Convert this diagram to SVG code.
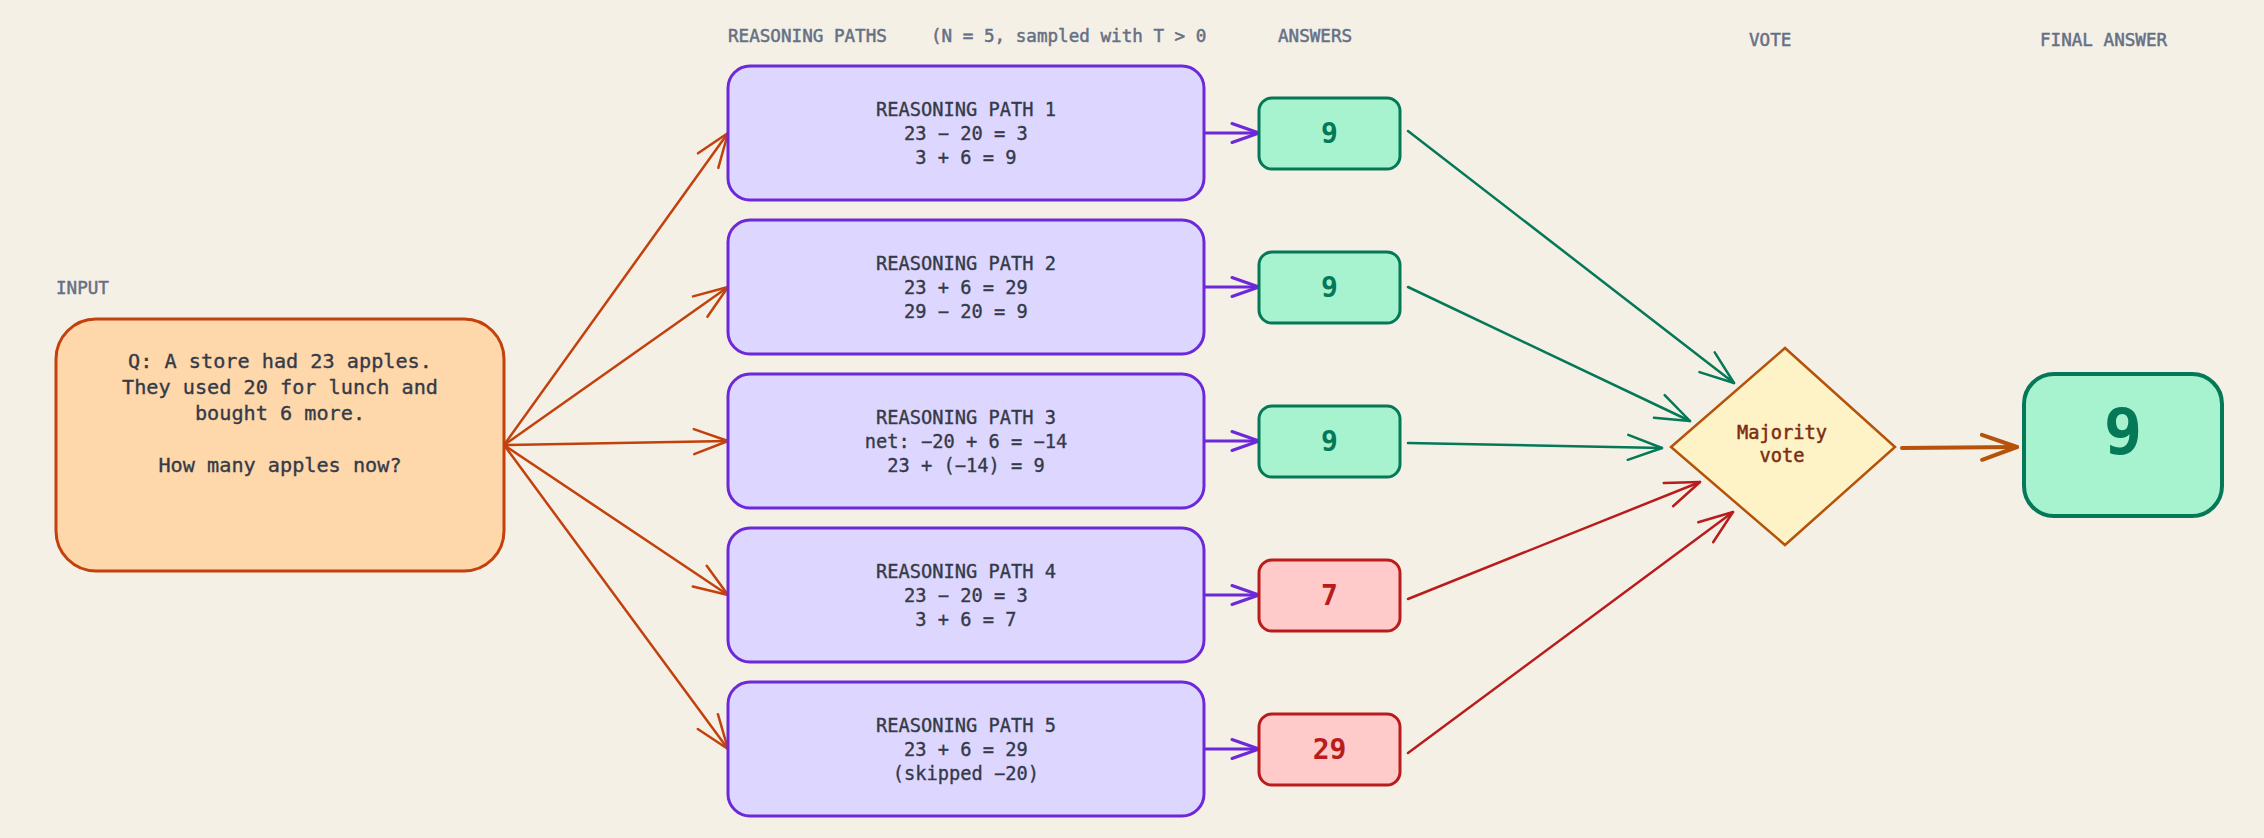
<svg xmlns="http://www.w3.org/2000/svg" width="2264" height="838" viewBox="0 0 2264 838">
  <defs>
    <style>
      .hdr { font-family: "DejaVu Sans Mono", "Liberation Mono", monospace; font-size: 17.6px; fill: #667085; stroke: #667085; stroke-width: 0.5px; }
      .body { font-family: "DejaVu Sans Mono", "Liberation Mono", monospace; fill: #343a48; stroke: #343a48; stroke-width: 0.35px; text-anchor: middle; }
      .vt { font-family: "DejaVu Sans Mono", "Liberation Mono", monospace; font-size: 18.7px; fill: #7c2d12; stroke: #7c2d12; stroke-width: 0.5px; text-anchor: middle; }
      .inp { fill: #fed7aa; stroke: #c2410c; stroke-width: 3; }
      .path { fill: #ddd6fe; stroke: #6d28d9; stroke-width: 3; }
      .ok { fill: #a7f3d0; stroke: #047857; stroke-width: 3; }
      .bad { fill: #fecaca; stroke: #b91c1c; stroke-width: 3; }
      .ans { font-family: "DejaVu Sans Mono", "Liberation Mono", monospace; font-size: 28px; font-weight: bold; text-anchor: middle; }
      .big { font-family: "DejaVu Sans Mono", "Liberation Mono", monospace; font-size: 64px; font-weight: bold; text-anchor: middle; fill: #047857; }
      .c-or { fill: none; stroke: #c2410c; stroke-width: 2.5; stroke-linecap: round; }
      .c-pu { fill: none; stroke: #6d28d9; stroke-width: 3; stroke-linecap: round; }
      .c-gr { fill: none; stroke: #047857; stroke-width: 2.5; stroke-linecap: round; }
      .c-rd { fill: none; stroke: #b91c1c; stroke-width: 2.5; stroke-linecap: round; }
      .c-am { fill: none; stroke: #b45309; stroke-width: 4; stroke-linecap: round; }
    </style>
    <marker id="m-or" markerUnits="userSpaceOnUse" orient="auto" markerWidth="50" markerHeight="40" viewBox="-40 -20 50 40" refX="0" refY="0" overflow="visible">
      <path d="M -34 -12.5 L 0 0 L -34 12.5" fill="none" stroke="#c2410c" stroke-width="2.5" stroke-linecap="round" stroke-linejoin="round"/>
    </marker>
    <marker id="m-pu" markerUnits="userSpaceOnUse" orient="auto" markerWidth="50" markerHeight="40" viewBox="-40 -20 50 40" refX="0" refY="0" overflow="visible">
      <path d="M -27 -9.5 L 0 0 L -27 9.5" fill="none" stroke="#6d28d9" stroke-width="3" stroke-linecap="round" stroke-linejoin="round"/>
    </marker>
    <marker id="m-gr" markerUnits="userSpaceOnUse" orient="auto" markerWidth="50" markerHeight="40" viewBox="-40 -20 50 40" refX="0" refY="0" overflow="visible">
      <path d="M -34 -12.5 L 0 0 L -34 12.5" fill="none" stroke="#047857" stroke-width="2.5" stroke-linecap="round" stroke-linejoin="round"/>
    </marker>
    <marker id="m-rd" markerUnits="userSpaceOnUse" orient="auto" markerWidth="50" markerHeight="40" viewBox="-40 -20 50 40" refX="0" refY="0" overflow="visible">
      <path d="M -34 -12.5 L 0 0 L -34 12.5" fill="none" stroke="#b91c1c" stroke-width="2.5" stroke-linecap="round" stroke-linejoin="round"/>
    </marker>
    <marker id="m-am" markerUnits="userSpaceOnUse" orient="auto" markerWidth="50" markerHeight="40" viewBox="-40 -20 50 40" refX="0" refY="0" overflow="visible">
      <path d="M -35 -12.5 L 0 0 L -35 12.5" fill="none" stroke="#b45309" stroke-width="4" stroke-linecap="round" stroke-linejoin="round"/>
    </marker>
  </defs>

  <rect x="0" y="0" width="2264" height="838" fill="#f5f0e6"/>

  <g id="headers">
    <text class="hdr" x="728" y="42">REASONING PATHS</text>
    <text class="hdr" x="931" y="42">(N = 5, sampled with T &gt; 0</text>
    <text class="hdr" x="1278" y="42">ANSWERS</text>
    <text class="hdr" x="1749" y="46">VOTE</text>
    <text class="hdr" x="2040" y="46">FINAL ANSWER</text>
    <text class="hdr" x="56" y="294">INPUT</text>
  </g>

  <g id="connectors">
    <line class="c-or" x1="504" y1="445" x2="728" y2="133" marker-end="url(#m-or)"/>
    <line class="c-or" x1="504" y1="445" x2="728" y2="287" marker-end="url(#m-or)"/>
    <line class="c-or" x1="504" y1="445" x2="728" y2="441" marker-end="url(#m-or)"/>
    <line class="c-or" x1="504" y1="445" x2="728" y2="595" marker-end="url(#m-or)"/>
    <line class="c-or" x1="504" y1="445" x2="728" y2="749" marker-end="url(#m-or)"/>

    <line class="c-pu" x1="1204" y1="133" x2="1259" y2="133" marker-end="url(#m-pu)"/>
    <line class="c-pu" x1="1204" y1="287" x2="1259" y2="287" marker-end="url(#m-pu)"/>
    <line class="c-pu" x1="1204" y1="441" x2="1259" y2="441" marker-end="url(#m-pu)"/>
    <line class="c-pu" x1="1204" y1="595" x2="1259" y2="595" marker-end="url(#m-pu)"/>
    <line class="c-pu" x1="1204" y1="749" x2="1259" y2="749" marker-end="url(#m-pu)"/>

    <line class="c-gr" x1="1408" y1="131" x2="1734" y2="383" marker-end="url(#m-gr)"/>
    <line class="c-gr" x1="1408" y1="287" x2="1690" y2="421" marker-end="url(#m-gr)"/>
    <line class="c-gr" x1="1408" y1="443" x2="1662" y2="448" marker-end="url(#m-gr)"/>
    <line class="c-rd" x1="1408" y1="599" x2="1700" y2="482" marker-end="url(#m-rd)"/>
    <line class="c-rd" x1="1408" y1="753" x2="1733" y2="512" marker-end="url(#m-rd)"/>

    <line class="c-am" x1="1902" y1="448" x2="2017" y2="447" marker-end="url(#m-am)"/>
  </g>

  <g id="input">
    <rect class="inp" x="56" y="319" width="448" height="252" rx="40" ry="40"/>
    <text class="body" font-size="20.2" x="280" y="368">Q: A store had 23 apples.</text>
    <text class="body" font-size="20.2" x="280" y="394">They used 20 for lunch and</text>
    <text class="body" font-size="20.2" x="280" y="420">bought 6 more.</text>
    <text class="body" font-size="20.2" x="280" y="472">How many apples now?</text>
  </g>

  <g id="path1">
    <rect class="path" x="728" y="66" width="476" height="134" rx="22" ry="22"/>
    <text class="body" font-size="18.7" x="966" y="116">REASONING PATH 1</text>
    <text class="body" font-size="18.7" x="966" y="140">23 − 20 = 3</text>
    <text class="body" font-size="18.7" x="966" y="164">3 + 6 = 9</text>
  </g>
  <g id="path2">
    <rect class="path" x="728" y="220" width="476" height="134" rx="22" ry="22"/>
    <text class="body" font-size="18.7" x="966" y="270">REASONING PATH 2</text>
    <text class="body" font-size="18.7" x="966" y="294">23 + 6 = 29</text>
    <text class="body" font-size="18.7" x="966" y="318">29 − 20 = 9</text>
  </g>
  <g id="path3">
    <rect class="path" x="728" y="374" width="476" height="134" rx="22" ry="22"/>
    <text class="body" font-size="18.7" x="966" y="424">REASONING PATH 3</text>
    <text class="body" font-size="18.7" x="966" y="448">net: −20 + 6 = −14</text>
    <text class="body" font-size="18.7" x="966" y="472">23 + (−14) = 9</text>
  </g>
  <g id="path4">
    <rect class="path" x="728" y="528" width="476" height="134" rx="22" ry="22"/>
    <text class="body" font-size="18.7" x="966" y="578">REASONING PATH 4</text>
    <text class="body" font-size="18.7" x="966" y="602">23 − 20 = 3</text>
    <text class="body" font-size="18.7" x="966" y="626">3 + 6 = 7</text>
  </g>
  <g id="path5">
    <rect class="path" x="728" y="682" width="476" height="134" rx="22" ry="22"/>
    <text class="body" font-size="18.7" x="966" y="732">REASONING PATH 5</text>
    <text class="body" font-size="18.7" x="966" y="756">23 + 6 = 29</text>
    <text class="body" font-size="18.7" x="966" y="780">(skipped −20)</text>
  </g>

  <g id="answer1">
    <rect class="ok" x="1259" y="98" width="141" height="71" rx="13" ry="13"/>
    <text class="ans" fill="#047857" x="1329.5" y="143">9</text>
  </g>
  <g id="answer2">
    <rect class="ok" x="1259" y="252" width="141" height="71" rx="13" ry="13"/>
    <text class="ans" fill="#047857" x="1329.5" y="297">9</text>
  </g>
  <g id="answer3">
    <rect class="ok" x="1259" y="406" width="141" height="71" rx="13" ry="13"/>
    <text class="ans" fill="#047857" x="1329.5" y="451">9</text>
  </g>
  <g id="answer4">
    <rect class="bad" x="1259" y="560" width="141" height="71" rx="13" ry="13"/>
    <text class="ans" fill="#b91c1c" x="1329.5" y="605">7</text>
  </g>
  <g id="answer5">
    <rect class="bad" x="1259" y="714" width="141" height="71" rx="13" ry="13"/>
    <text class="ans" fill="#b91c1c" x="1329.5" y="759">29</text>
  </g>

  <g id="vote">
    <polygon points="1785,348 1895,447 1785,545 1671,447" fill="#fef3c7" stroke="#b45309" stroke-width="2.5" stroke-linejoin="miter"/>
    <text class="vt" x="1782" y="439">Majority</text>
    <text class="vt" x="1782" y="462">vote</text>
  </g>

  <g id="final">
    <rect x="2024" y="374" width="198" height="142" rx="30" ry="30" fill="#a7f3d0" stroke="#047857" stroke-width="4"/>
    <text class="big" x="2123" y="454">9</text>
  </g>
</svg>
